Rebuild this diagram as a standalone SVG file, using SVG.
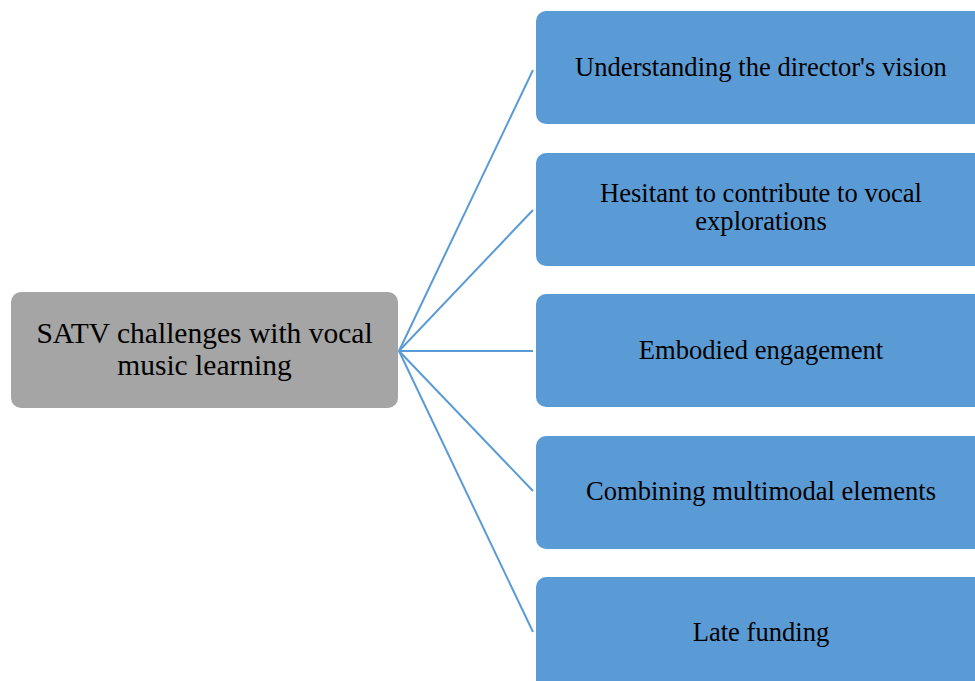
<svg xmlns="http://www.w3.org/2000/svg" width="975" height="681" viewBox="0 0 975 681">
  <style>
    .hub { fill: #a5a5a5; }
    .leaf { fill: #5b9bd5; }
    text { font-family: 'Liberation Serif', 'Times New Roman', 'DejaVu Serif', serif; fill: #000; text-anchor: middle; }
    .hub-text { font-size: 29.5px; }
    .leaf-text { font-size: 26.6px; }
    .link { stroke: #5b9bd5; stroke-width: 2; fill: none; }
  </style>
  <rect width="975" height="681" fill="#ffffff"/>
  <g id="connectors">
    <line class="link" x1="399" y1="351" x2="533" y2="70"/>
    <line class="link" x1="399" y1="351" x2="533" y2="210"/>
    <line class="link" x1="399" y1="351" x2="533" y2="351"/>
    <line class="link" x1="399" y1="351" x2="533" y2="491"/>
    <line class="link" x1="399" y1="351" x2="533" y2="632"/>
  </g>
  <g id="hub">
    <rect class="hub" x="11" y="292" width="387" height="116" rx="10"/>
    <text class="hub-text" x="204.5" y="343">SATV challenges with vocal</text>
    <text class="hub-text" x="204.5" y="375">music learning</text>
  </g>
  <g id="node-1">
    <rect class="leaf" x="536" y="11" width="449" height="113" rx="10"/>
    <text class="leaf-text" x="761" y="76">Understanding the director's vision</text>
  </g>
  <g id="node-2">
    <rect class="leaf" x="536" y="153" width="449" height="113" rx="10"/>
    <text class="leaf-text" x="761" y="202">Hesitant to contribute to vocal</text>
    <text class="leaf-text" x="761" y="230">explorations</text>
  </g>
  <g id="node-3">
    <rect class="leaf" x="536" y="294" width="449" height="113" rx="10"/>
    <text class="leaf-text" x="761" y="359">Embodied engagement</text>
  </g>
  <g id="node-4">
    <rect class="leaf" x="536" y="436" width="449" height="113" rx="10"/>
    <text class="leaf-text" x="761" y="500">Combining multimodal elements</text>
  </g>
  <g id="node-5">
    <rect class="leaf" x="536" y="577" width="449" height="113" rx="10"/>
    <text class="leaf-text" x="761" y="641">Late funding</text>
  </g>
</svg>
